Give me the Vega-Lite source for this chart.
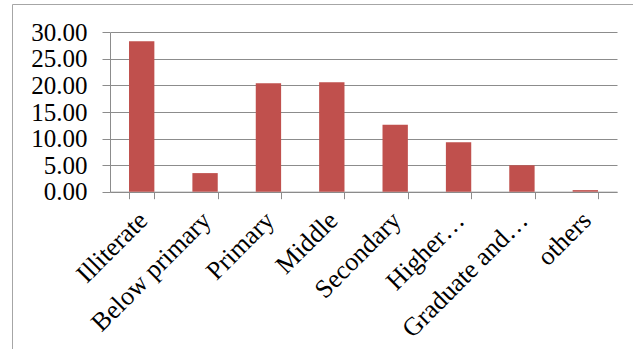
{
  "$schema": "https://vega.github.io/schema/vega-lite/v6.json",
  "width": 621,
  "height": 345,
  "autosize": {"type": "none"},
  "padding": {"left": 12, "top": 4, "right": 0, "bottom": 0},
  "background": "white",
  "config": {
    "view": {"stroke": null},
    "font": "Liberation Serif",
    "axis": {"labelFont": "Liberation Serif", "labelColor": "#000000", "labelFontSize": 24, "title": null}
  },
  "data": {
    "values": [
      {"level": "Illiterate", "value": 28.3},
      {"level": "Below primary", "value": 3.5},
      {"level": "Primary", "value": 20.4},
      {"level": "Middle", "value": 20.6},
      {"level": "Secondary", "value": 12.6},
      {"level": "Higher…", "value": 9.3},
      {"level": "Graduate and…", "value": 5.0},
      {"level": "others", "value": 0.3}
    ]
  },
  "layer": [
    {
      "mark": {"type": "bar", "color": "#C0504D"},
      "encoding": {
        "x": {
          "field": "level", "type": "nominal", "sort": null,
          "scale": {"range": [98, 605], "paddingInner": 0.6, "paddingOuter": 0.3},
          "axis": {
            "orient": "bottom", "offset": -157.3, "labelAngle": -45, "tickBand": "extent",
            "tickSize": 7, "domainColor": "#8c8c8c", "tickColor": "#8c8c8c", "grid": false,
            "labelOverlap": false, "labelPadding": 8, "labelOffset": -8, "labelFontSize": 26
          }
        },
        "y": {
          "field": "value", "type": "quantitative",
          "scale": {"domain": [0, 30], "range": [187.7, 28.3], "nice": false, "zero": true},
          "axis": {
            "orient": "left", "offset": -98, "values": [0, 5, 10, 15, 20, 25, 30], "format": ".2f",
            "grid": true, "gridColor": "#8c8c8c", "gridOpacity": 1, "tickSize": 8, "tickColor": "#8c8c8c",
            "domainColor": "#8c8c8c", "labelPadding": 15, "labelOverlap": false, "labelFontSize": 25
          }
        }
      }
    },
    {
      "mark": {"type": "point", "opacity": 0},
      "encoding": {
        "x": {
          "field": "value", "type": "quantitative",
          "axis": {"orient": "top", "labels": false, "ticks": false, "grid": false, "domainColor": "#a6a6a6"}
        },
        "y": {
          "field": "value", "type": "quantitative",
          "axis": {"orient": "left", "labels": false, "ticks": false, "grid": false, "domainColor": "#a6a6a6"}
        }
      }
    }
  ],
  "resolve": {"scale": {"x": "independent", "y": "independent"}}
}
